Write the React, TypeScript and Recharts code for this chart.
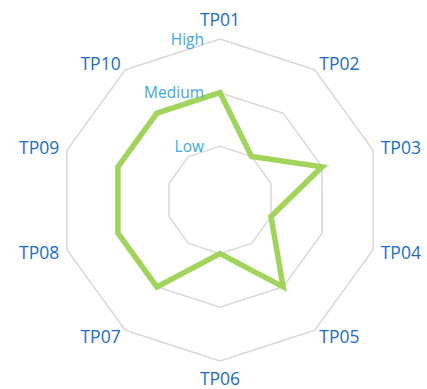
import React from "react";
import { RadarChart, Radar, PolarGrid, PolarAngleAxis, PolarRadiusAxis } from "recharts";

const categories = ["TP01", "TP02", "TP03", "TP04", "TP05", "TP06", "TP07", "TP08", "TP09", "TP10"];
const levels = [2, 1, 2, 1, 2, 1, 2, 2, 2, 2];
const levelLabels = ["", "Low", "Medium", "High"];
const levelTicks = [1, 2, 3];

const data = categories.map((c, i) => ({ name: c, value: levels[i] }));

const CX = 220;
const CY = 200;
const R = 161;
const FONT = "'Open Sans', sans-serif";

const AngleTick = (props: any) => {
  const { x, y, payload } = props;
  const dx = x - CX;
  const dy = y - CY;
  const len = Math.sqrt(dx * dx + dy * dy) || 1;
  const ux = dx / len;
  const uy = dy / len;
  const lr = R + 8;
  const px = CX + ux * lr;
  const py = CY + uy * lr;
  let anchor: "start" | "end" | "middle" = "middle";
  if (ux > 0.05) anchor = "start";
  else if (ux < -0.05) anchor = "end";
  let by = py + 6.5;
  if (anchor === "middle") {
    by = uy < 0 ? py - 5 : py + 16;
  }
  return (
    <text x={px} y={by} textAnchor={anchor} fill="#1c6dc2" fontSize={17.5} fontFamily={FONT}>
      {payload.value}
    </text>
  );
};

const RadiusTick = (props: any) => {
  const { x, y, payload } = props;
  return (
    <text x={x - 16} y={y + 5.5} textAnchor="end" fill="#3aa9e2" fontSize={15.5} fontFamily={FONT}>
      {levelLabels[payload.value]}
    </text>
  );
};

export default function App() {
  return (
    <div style={{ position: "absolute", left: 0, top: 0, width: 427, height: 389 }}>
      <RadarChart width={427} height={389} data={data} cx={CX} cy={CY} outerRadius={R}
        margin={{ top: 0, right: 0, bottom: 0, left: 0 }}>
        <PolarGrid gridType="polygon" radialLines={false} stroke="#d9d9d9" strokeWidth={1.5} />
        <PolarAngleAxis dataKey="name" tick={<AngleTick />} axisLine={false} tickLine={false} />
        <PolarRadiusAxis angle={90} domain={[0, 3]} ticks={levelTicks} tick={<RadiusTick />}
          axisLine={false} tickLine={false} />
        <Radar dataKey="value" stroke="#a1d45a" strokeWidth={5.5} fill="none" fillOpacity={0}
          isAnimationActive={false} dot={false} />
      </RadarChart>
    </div>
  );
}
